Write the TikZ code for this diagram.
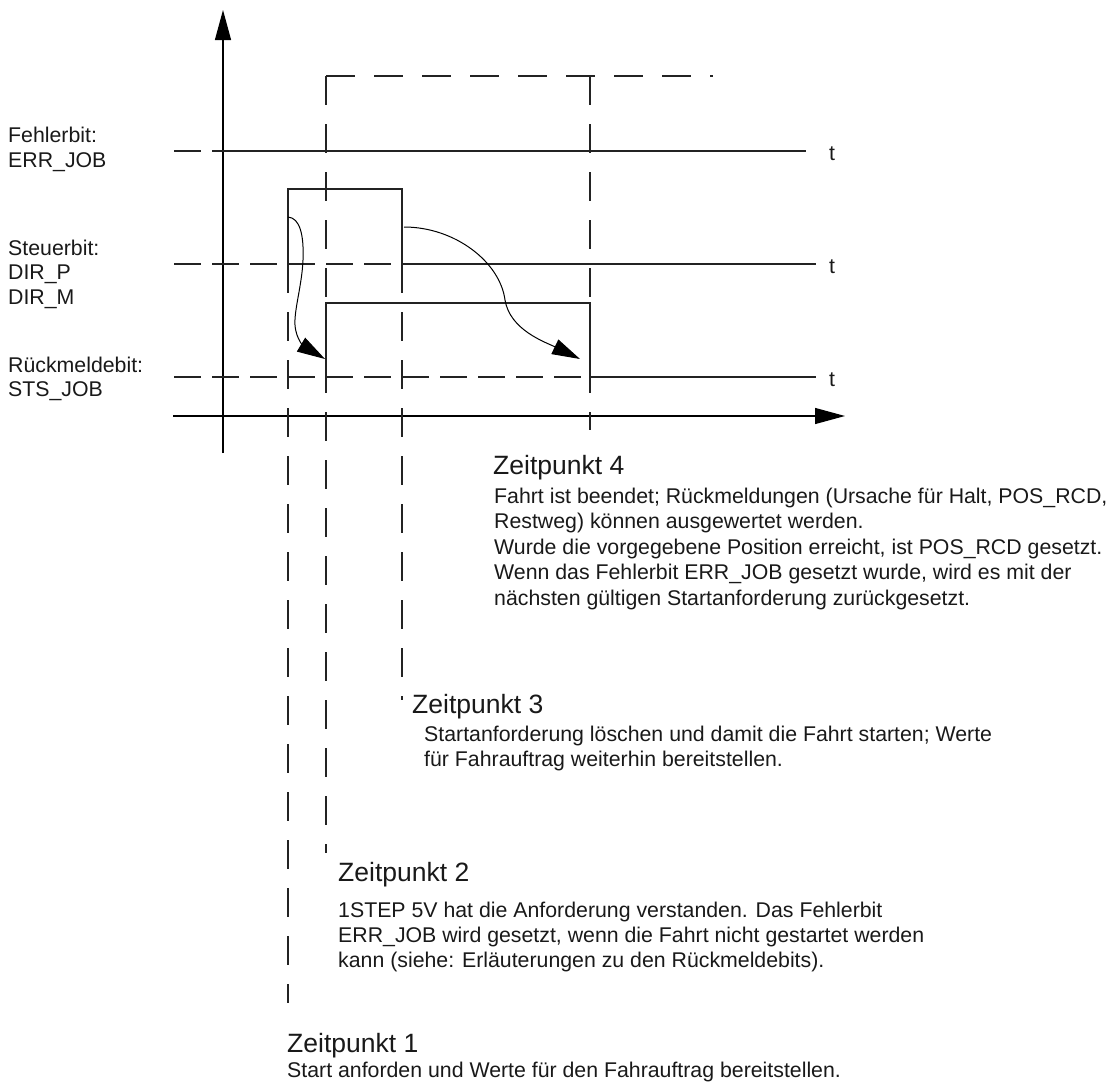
\documentclass[tikz,border=0pt]{standalone}
\usepackage{fontspec}
\setmainfont{Liberation Sans}
\usetikzlibrary{arrows.meta}
\definecolor{linegray}{RGB}{35,35,35}
\definecolor{textgray}{RGB}{25,25,25}
\begin{document}
\begin{tikzpicture}[x=1pt,y=-1pt,
  sig/.style={line width=1.2pt, linegray},
  refdash/.style={line width=1.2pt, linegray, dash pattern=on 27pt off 11pt},
  vdash/.style={line width=1.2pt, linegray, dash pattern=on 29pt off 19pt},
  lbl/.style={font=\fontsize{21.3}{25.5}\selectfont, text=textgray, inner sep=0pt, anchor=base west},
  head/.style={font=\fontsize{26.5}{30}\selectfont, text=textgray, inner sep=0pt, anchor=base west},
  curvearrow/.style={line width=1pt, black, -{Triangle[length=28pt,width=16pt]}},
  axisarrow/.style={line width=1.2pt, black, -{Triangle[length=30pt,width=16pt]}}]
\useasboundingbox (0,0) rectangle (1108,1082);

% axes
\coordinate (yb) at (223,453); \coordinate (yt) at (223,10);
\coordinate (xl) at (173,416); \coordinate (xr) at (845,416);
\draw[axisarrow] (yb) -- (yt);
\draw[axisarrow] (xl) -- (xr);

% reference lines
\coordinate (e0) at (174,151); \coordinate (e1) at (201,151);
\coordinate (e2) at (212,151); \coordinate (e3) at (806,151);
\draw[sig] (e0) -- (e1);
\draw[sig] (e2) -- (e3);

\coordinate (d0) at (174,264); \coordinate (d1) at (402,264); \coordinate (d2) at (816,264);
\draw[refdash] (d0) -- (d1);
\draw[sig] (d1) -- (d2);

\coordinate (s0) at (174,377); \coordinate (s1) at (590,377); \coordinate (s2) at (816,377);
\draw[refdash] (s0) -- (s1);
\draw[sig] (s1) -- (s2);

% top dashed frame
\coordinate (ta) at (326,76); \coordinate (tb) at (713,76);
\draw[vdash] (ta) -- (tb);

% vertical dashed time lines
\coordinate (v1t) at (288,264); \coordinate (v1b) at (288,1003);
\coordinate (v2t) at (326,76);  \coordinate (v2b) at (326,853);
\coordinate (v3t) at (402,264); \coordinate (v3b) at (402,700);
\coordinate (v4t) at (590,76);  \coordinate (v4b) at (590,430);
\draw[vdash] (v1t) -- (v1b);
\draw[vdash] (v2t) -- (v2b);
\draw[vdash] (v3t) -- (v3b);
\draw[vdash] (v4t) -- (v4b);

% DIR_P pulse
\coordinate (p0) at (288,264); \coordinate (p1) at (288,189);
\coordinate (p2) at (402,189); \coordinate (p3) at (402,264);
\draw[sig] (p0) -- (p1) -- (p2) -- (p3);

% STS_JOB pulse
\coordinate (q0) at (326,377); \coordinate (q1) at (326,303);
\coordinate (q2) at (590,303); \coordinate (q3) at (590,377);
\draw[sig] (q0) -- (q1) -- (q2) -- (q3);

% curved arrows
\coordinate (c1s) at (288,217); \coordinate (c1e) at (325,359);
\draw[curvearrow] (c1s) .. controls (300,218) and (304,235) .. (303,260)
  .. controls (302,285) and (294,310) .. (295,325)
  .. controls (296,340) and (305,347) .. (c1e);
\coordinate (c2s) at (404,227); \coordinate (c2e) at (580,359);
\draw[curvearrow] (c2s) .. controls (455,227) and (500,262) .. (505,300)
  .. controls (510,330) and (545,342) .. (c2e);

% t labels
\node[lbl] (t1) at (829,160) {t};
\node[lbl] (t2) at (829,273) {t};
\node[lbl] (t3) at (829,386) {t};

% left labels
\node[lbl] (l1) at (8,142) {Fehlerbit:};
\node[lbl] (l2) at (8,167) {ERR\_JOB};
\node[lbl] (l3) at (8,255) {Steuerbit:};
\node[lbl] (l4) at (8,279) {DIR\_P};
\node[lbl] (l5) at (8,304) {DIR\_M};
\node[lbl] (l6) at (8,372) {Rückmeldebit:};
\node[lbl] (l7) at (8,396) {STS\_JOB};

% Zeitpunkt 4
\node[head] (z4) at (493,474) {Zeitpunkt 4};
\node[lbl] (z4a) at (494,503) {Fahrt ist beendet; Rückmeldungen (Ursache für Halt, POS\_RCD,};
\node[lbl] (z4b) at (494,528.5) {Restweg) können ausgewertet werden.};
\node[lbl] (z4c) at (494,554) {Wurde die vorgegebene Position erreicht, ist POS\_RCD gesetzt.};
\node[lbl] (z4d) at (494,579.5) {Wenn das Fehlerbit ERR\_JOB gesetzt wurde, wird es mit der};
\node[lbl] (z4e) at (494,605) {nächsten gültigen Startanforderung zurückgesetzt.};

% Zeitpunkt 3
\node[head] (z3) at (412,713) {Zeitpunkt 3};
\node[lbl] (z3a) at (424,741) {Startanforderung löschen und damit die Fahrt starten; Werte};
\node[lbl] (z3b) at (424,766) {für Fahrauftrag weiterhin bereitstellen.};

% Zeitpunkt 2
\node[head] (z2) at (338,881) {Zeitpunkt 2};
\node[lbl] (z2a) at (338,917) {1STEP 5V hat die Anforderung verstanden. Das Fehlerbit};
\node[lbl] (z2b) at (338,942) {ERR\_JOB wird gesetzt, wenn die Fahrt nicht gestartet werden};
\node[lbl] (z2c) at (338,967) {kann (siehe: Erläuterungen zu den Rückmeldebits).};

% Zeitpunkt 1
\node[head] (z1) at (287,1052) {Zeitpunkt 1};
\node[lbl] (z1a) at (287,1077) {Start anforden und Werte für den Fahrauftrag bereitstellen.};
\end{tikzpicture}
\end{document}
